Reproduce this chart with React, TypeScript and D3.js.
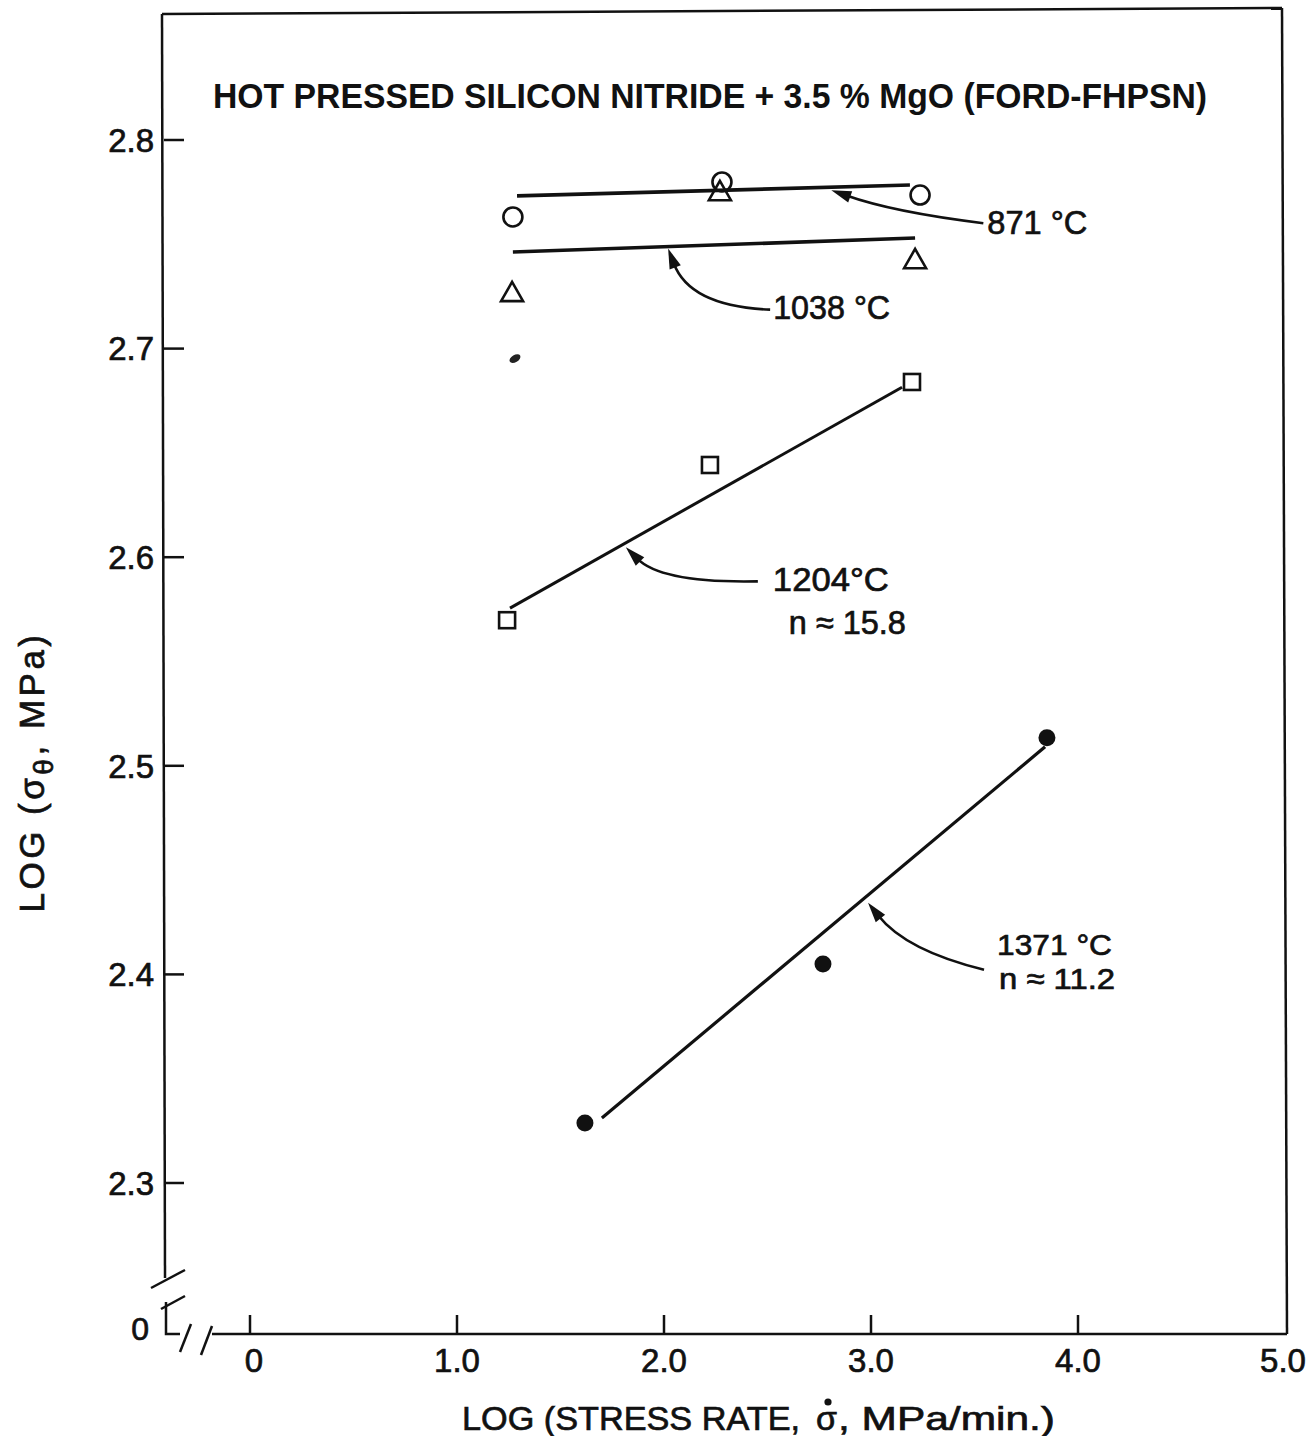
import React from 'react';
import * as d3 from 'd3';

const WIDTH = 1311;
const HEIGHT = 1436;

const xTicks = [0, 1, 2, 3, 4];
const xTickLabels = ['0', '1.0', '2.0', '3.0', '4.0', '5.0'];
const xLabelValues = [0, 1, 2, 3, 4, 5];
const yTicks = [2.3, 2.4, 2.5, 2.6, 2.7, 2.8];
const yTickLabels = ['2.3', '2.4', '2.5', '2.6', '2.7', '2.8'];

// 871 °C  (open circles)
const rate871 = [1.27, 2.28, 3.237];
const strength871 = [2.7631, 2.7799, 2.7736];
const fit871 = [[1.29, 2.7732], [3.188, 2.7784]];

// 1038 °C  (open triangles)
const rate1038 = [1.266, 2.27, 3.213];
const strength1038 = [2.7267, 2.7751, 2.7425];
const fit1038 = [[1.27, 2.7463], [3.213, 2.753]];

// 1204 °C  (open squares)
const rate1204 = [1.242, 2.222, 3.198];
const strength1204 = [2.5698, 2.6442, 2.684];
const fit1204 = [[1.256, 2.5756], [3.15, 2.6815]];

// 1371 °C  (filled circles)
const rate1371 = [1.618, 2.768, 3.85];
const strength1371 = [2.3288, 2.405, 2.5134];
const fit1371 = [[1.7, 2.3312], [3.841, 2.5091]];

// stray mark below the 1038 triangle
const strayMark = [1.28, 2.6952];

const title = 'HOT PRESSED SILICON NITRIDE + 3.5 % MgO (FORD-FHPSN)';

const x = d3.scaleLinear().domain([0, 5]).range([250, 1285]);
const y = d3.scaleLinear().domain([2.3, 2.8]).range([1183, 140]);

const line = d3.line<number[]>().x(d => x(d[0])).y(d => y(d[1]));

const font = '"Liberation Sans", Arial, sans-serif';
const ink = '#111';
// slight outline so the lettering is as heavy as the stencil text
const heavy = { stroke: ink, strokeWidth: 0.7 };

type Note = {
  fit: number[][];
  t: number;
  tipOff: number[];
  start: number[];
  ctrl: number[];
  size: number;
  labels: { text: string; off: number[]; len: number }[];
};

const notes: Note[] = [
  { fit: fit871, t: 0.8, tipOff: [0, 3], start: [152, 33], ctrl: [62, 22], size: 34,
    labels: [{ text: '871 °C', off: [156, 44], len: 100 }] },
  { fit: fit1038, t: 0.386, tipOff: [0, 2], start: [102, 61], ctrl: [22, 58], size: 34,
    labels: [{ text: '1038 °C', off: [105, 70], len: 117 }] },
  { fit: fit1204, t: 0.293, tipOff: [1, 4], start: [132, 34], ctrl: [36, 36], size: 33,
    labels: [{ text: '1204°C', off: [147, 44], len: 116 }, { text: 'n ≈ 15.8', off: [163, 87], len: 117 }] },
  { fit: fit1371, t: 0.596, tipOff: [2, 6], start: [116, 67], ctrl: [38, 48], size: 30,
    labels: [{ text: '1371 °C', off: [129, 52], len: 115 }, { text: 'n ≈ 11.2', off: [131, 86], len: 116 }] },
];

function Annotation({ note }: { note: Note }) {
  const [a, b] = note.fit;
  const lx = a[0] + (b[0] - a[0]) * note.t;
  const ly = a[1] + (b[1] - a[1]) * note.t;
  const tx = x(lx) + note.tipOff[0];
  const ty = y(ly) + note.tipOff[1];
  const cx = tx + note.ctrl[0], cy = ty + note.ctrl[1];
  const sx = tx + note.start[0], sy = ty + note.start[1];
  const dx = tx - cx, dy = ty - cy;
  const d = Math.hypot(dx, dy);
  const ux = dx / d, uy = dy / d;
  const len = 20, half = 6;
  const bx = tx - ux * len, by = ty - uy * len;
  const p = d3.path();
  p.moveTo(sx, sy);
  p.quadraticCurveTo(cx, cy, bx + ux * 4, by + uy * 4);
  const head = [
    [tx, ty],
    [bx - uy * half, by + ux * half],
    [bx + uy * half, by - ux * half],
  ];
  return (
    <g>
      <path d={p.toString()} fill="none" stroke={ink} strokeWidth={2.6} />
      <polygon points={head.map(q => q.join(',')).join(' ')} fill={ink} />
      {note.labels.map((l, i) => (
        <text key={i} x={tx + l.off[0]} y={ty + l.off[1]} fontSize={note.size} fontFamily={font}
          textLength={l.len} lengthAdjust="spacingAndGlyphs" fill={ink} {...heavy}>{l.text}</text>
      ))}
    </g>
  );
}

export default function App() {
  const triangle = (cx: number, cy: number) => {
    const s = 11;
    return `${cx},${cy - s} ${cx + s},${cy + s * 0.75} ${cx - s},${cy + s * 0.75}`;
  };
  return (
    <svg width={WIDTH} height={HEIGHT} style={{ position: 'absolute', left: 0, top: 0, background: '#fff' }}>
      <rect width={WIDTH} height={HEIGHT} fill="#fff" />
      {/* frame with axis breaks */}
      <g stroke={ink} strokeWidth={2.5} fill="none">
        <line x1={162} y1={14} x2={1282} y2={8} />
        <line x1={1282} y1={8} x2={1287} y2={1334} />
        <line x1={162} y1={14} x2={165} y2={1278} />
        <polyline points="166,1302 166,1334 180,1334" />
        <line x1={212} y1={1334} x2={1287} y2={1334} />
        <line x1={151} y1={1288} x2={185} y2={1270} />
        <line x1={161} y1={1309} x2={185} y2={1296} />
        <line x1={180} y1={1352} x2={191} y2={1324} />
        <line x1={201} y1={1355} x2={212} y2={1326} />
      </g>
      {/* y ticks */}
      {yTicks.map((t, i) => (
        <g key={t}>
          <line x1={164} x2={184} y1={y(t)} y2={y(t)} stroke={ink} strokeWidth={2.5} />
          <text x={154} y={y(t)} dy="0.36em" textAnchor="end" fontSize={33} fontFamily={font} fill={ink} {...heavy}>
            {yTickLabels[i]}
          </text>
        </g>
      ))}
      <text x={149} y={1328} dy="0.36em" textAnchor="end" fontSize={32} fontFamily={font} fill={ink} {...heavy}>0</text>
      {/* x ticks */}
      {xTicks.map(t => (
        <line key={t} x1={x(t)} x2={x(t)} y1={1334} y2={1315} stroke={ink} strokeWidth={2.5} />
      ))}
      {xLabelValues.map((t, i) => (
        <text key={t} x={x(t) + (i === 0 ? 4 : i === 5 ? -2 : 0)} y={1372} textAnchor="middle" fontSize={33}
          fontFamily={font} fill={ink} {...heavy}>{xTickLabels[i]}</text>
      ))}
      {/* x axis title: sigma with a dot above */}
      <g fontSize={34} fontFamily={font} fill={ink} {...heavy}>
        <text x={462} y={1430} textLength={338} lengthAdjust="spacingAndGlyphs">LOG (STRESS RATE,</text>
        <text x={816} y={1430}>σ</text>
        <text x={838} y={1430} textLength={217} lengthAdjust="spacingAndGlyphs">, MPa/min.)</text>
      </g>
      <circle cx={828} cy={1402} r={3.6} fill={ink} />
      {/* y axis title */}
      <text transform="translate(44,772) rotate(-90)" textAnchor="middle" fontSize={35} fontFamily={font}
        fill={ink} letterSpacing={3.5} {...heavy}>LOG (σ<tspan fontSize={28} dy={9}>θ</tspan><tspan dy={-9}>, MPa)</tspan></text>
      {/* title */}
      <text x={213} y={108} fontSize={35} fontWeight="bold" fontFamily={font} fill={ink} textLength={994}
        lengthAdjust="spacingAndGlyphs">{title}</text>
      {/* fit lines */}
      <path d={line(fit871) ?? ''} stroke={ink} strokeWidth={3.6} fill="none" />
      <path d={line(fit1038) ?? ''} stroke={ink} strokeWidth={3.6} fill="none" />
      <path d={line(fit1204) ?? ''} stroke={ink} strokeWidth={3} fill="none" />
      <path d={line(fit1371) ?? ''} stroke={ink} strokeWidth={3.2} fill="none" />
      {/* points */}
      {rate871.map((r, i) => (
        <circle key={'c' + i} cx={x(r)} cy={y(strength871[i])} r={9.5} fill="none"
          stroke={ink} strokeWidth={2.6} />
      ))}
      {rate1038.map((r, i) => (
        <polygon key={'t' + i} points={triangle(x(r), y(strength1038[i]))} fill="none" stroke={ink}
          strokeWidth={2.6} />
      ))}
      {rate1204.map((r, i) => (
        <rect key={'s' + i} x={x(r) - 8} y={y(strength1204[i]) - 8} width={16} height={16} fill="#fff"
          stroke={ink} strokeWidth={2.6} />
      ))}
      {rate1371.map((r, i) => (
        <circle key={'f' + i} cx={x(r)} cy={y(strength1371[i])} r={8.5} fill={ink} />
      ))}
      <ellipse cx={x(strayMark[0])} cy={y(strayMark[1])} rx={6} ry={3.5} fill="#222"
        transform={`rotate(-30 ${x(strayMark[0])} ${y(strayMark[1])})`} />
      {notes.map((n, i) => <Annotation key={i} note={n} />)}
    </svg>
  );
}
